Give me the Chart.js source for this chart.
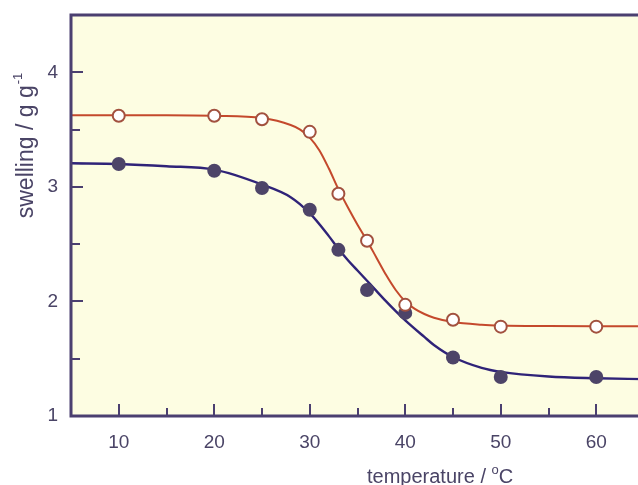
<!DOCTYPE html>
<html>
<head>
<meta charset="utf-8">
<script src="https://cdn.jsdelivr.net/npm/chart.js@4.4.1/dist/chart.umd.min.js"></script>
<style>
html,body{margin:0;padding:0;background:#fff;overflow:hidden;width:638px;height:485px;}
#c{display:block;}
</style>
</head>
<body>
<canvas id="c" width="644" height="485" style="width:644px;height:485px"></canvas>
<script>
// measured points
const tempPoints = [10, 20, 25, 30, 33, 36, 40, 45, 50, 60];
const openValues = [3.62, 3.62, 3.59, 3.48, 2.94, 2.53, 1.97, 1.84, 1.78, 1.78];
const filledValues = [3.20, 3.14, 2.99, 2.80, 2.45, 2.10, 1.90, 1.51, 1.34, 1.34];
// fitted curves
const redCurveX = [5, 10, 15, 20, 25, 28, 29, 30, 31, 32, 33, 34, 35, 36, 37, 38, 39, 40, 41, 42, 43, 45, 48, 50, 55, 60, 65];
const redCurveY = [3.625, 3.625, 3.625, 3.62, 3.60, 3.54, 3.50, 3.43, 3.32, 3.16, 2.98, 2.82, 2.67, 2.53, 2.38, 2.23, 2.10, 2.00, 1.935, 1.89, 1.858, 1.82, 1.797, 1.79, 1.785, 1.783, 1.783];
const blueCurveX = [5, 10, 15, 20, 25, 28, 30, 32, 33, 34, 35, 36, 37, 38, 39, 40, 42, 43, 45, 48, 50, 55, 60, 65];
const blueCurveY = [3.206, 3.20, 3.18, 3.15, 3.02, 2.91, 2.77, 2.57, 2.46, 2.36, 2.27, 2.18, 2.09, 2.00, 1.915, 1.835, 1.69, 1.62, 1.515, 1.42, 1.385, 1.345, 1.33, 1.322];
const yTickLabels = [1, 2, 3, 4];
const xTickLabels = [10, 20, 30, 40, 50, 60];

const AXIS = '#4b3f70';
const TEXT = '#4a4466';
const FONT = '"Liberation Sans", Arial, sans-serif';

const pts = (xs, ys) => xs.map((x, i) => ({x: x, y: ys[i]}));

const framePlugin = {
  id: 'frame',
  beforeDraw(chart) {
    const {ctx, chartArea: a} = chart;
    ctx.save();
    ctx.fillStyle = '#fdfde2';
    ctx.fillRect(a.left, a.top, a.right - a.left, a.bottom - a.top);
    ctx.restore();
  },
  afterDraw(chart) {
    const {ctx, chartArea: a, scales} = chart;
    const xs = scales.x, ys = scales.y;
    ctx.save();
    ctx.strokeStyle = AXIS;
    ctx.lineWidth = 3;
    ctx.strokeRect(a.left, a.top, a.right - a.left, a.bottom - a.top);
    ctx.lineWidth = 2;
    ctx.beginPath();
    for (let v = 10; v <= 60; v += 5) {
      const px = Math.round(xs.getPixelForValue(v));
      const len = (v % 10 === 0) ? 12 : 8;
      ctx.moveTo(px, a.bottom);
      ctx.lineTo(px, a.bottom - len);
    }
    for (let v = 1.5; v <= 4.0001; v += 0.5) {
      const py = Math.round(ys.getPixelForValue(v));
      const len = (Math.abs(v - Math.round(v)) < 1e-6) ? 12 : 9;
      ctx.moveTo(a.left, py);
      ctx.lineTo(a.left + len, py);
    }
    ctx.stroke();

    // axis titles
    ctx.fillStyle = TEXT;
    ctx.textBaseline = 'alphabetic';
    ctx.textAlign = 'left';
    // x title
    ctx.font = '20px ' + FONT;
    let x0 = 367, base = 483;
    const t1 = 'temperature / ';
    ctx.fillText(t1, x0, base);
    x0 += ctx.measureText(t1).width;
    ctx.font = '13px ' + FONT;
    ctx.fillText('o', x0, base - 9);
    x0 += ctx.measureText('o').width;
    ctx.font = '20px ' + FONT;
    ctx.fillText('C', x0, base);

    // y title (rotated)
    ctx.save();
    ctx.translate(33, 146);
    ctx.rotate(-Math.PI / 2);
    ctx.font = '23px ' + FONT;
    const m = 'swelling / g g';
    const w1 = ctx.measureText(m).width;
    ctx.font = '13px ' + FONT;
    const w2 = ctx.measureText('-1').width;
    const start = -(w1 + w2) / 2;
    ctx.font = '23px ' + FONT;
    ctx.fillText(m, start, 0);
    ctx.font = '13px ' + FONT;
    ctx.fillText('-1', start + w1 + 1, -11);
    ctx.restore();
    ctx.restore();
  }
};

function noPad(s) {
  s.paddingTop = 0; s.paddingBottom = 0; s.paddingLeft = 0; s.paddingRight = 0;
}

new Chart(document.getElementById('c'), {
  type: 'scatter',
  data: {
    datasets: [
      {
        data: pts(redCurveX, redCurveY), showLine: true, borderColor: '#c4492c', borderWidth: 2,
        pointRadius: 0, tension: 0.4, cubicInterpolationMode: 'monotone', order: 3
      },
      {
        data: pts(blueCurveX, blueCurveY), showLine: true, borderColor: '#2f2378', borderWidth: 2.4,
        pointRadius: 0, tension: 0.4, cubicInterpolationMode: 'monotone', order: 4
      },
      {
        data: pts(tempPoints, openValues), showLine: false, pointRadius: 6, pointBorderWidth: 2,
        pointBackgroundColor: '#ffffff', pointBorderColor: '#a2513f', order: 1
      },
      {
        data: pts(tempPoints, filledValues), showLine: false, pointRadius: 7, pointBorderWidth: 0,
        pointBackgroundColor: '#4d4468', pointBorderColor: '#4d4468', order: 2
      }
    ]
  },
  plugins: [framePlugin],
  options: {
    responsive: false,
    maintainAspectRatio: false,
    devicePixelRatio: 1,
    animation: false,
    layout: {autoPadding: false, padding: {left: 0, right: 0, top: 15, bottom: 0}},
    plugins: {legend: {display: false}, tooltip: {enabled: false}},
    scales: {
      x: {
        type: 'linear', min: 5, max: 65,
        afterFit(s) { s.height = 69; noPad(s); },
        afterBuildTicks(s) { s.ticks = xTickLabels.map(v => ({value: v})); },
        grid: {display: false, drawTicks: false},
        border: {display: false},
        ticks: {color: TEXT, font: {size: 19, family: FONT}, padding: 15}
      },
      y: {
        type: 'linear', min: 1, max: 4.5,
        afterFit(s) { s.width = 71; noPad(s); },
        afterBuildTicks(s) { s.ticks = yTickLabels.map(v => ({value: v})); },
        grid: {display: false, drawTicks: false},
        border: {display: false},
        ticks: {color: TEXT, font: {size: 19, family: FONT}, padding: 13}
      }
    }
  }
});
</script>
</body>
</html>
